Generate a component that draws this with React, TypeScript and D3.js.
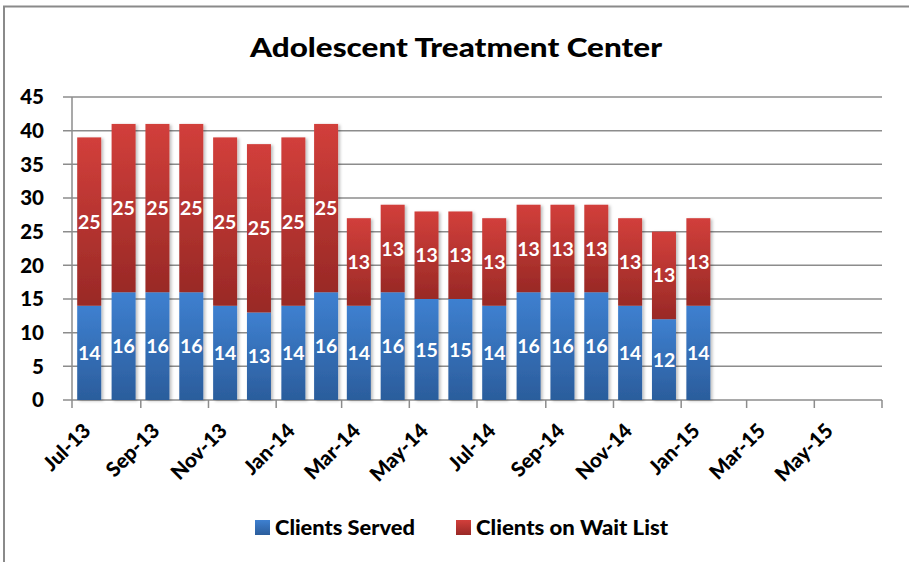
import { useEffect, useRef } from 'react';
import * as d3 from 'd3';

const months = [
  '2013-07', '2013-08', '2013-09', '2013-10', '2013-11', '2013-12',
  '2014-01', '2014-02', '2014-03', '2014-04', '2014-05', '2014-06',
  '2014-07', '2014-08', '2014-09', '2014-10', '2014-11', '2014-12', '2015-01',
];
const clientsServed = [14, 16, 16, 16, 14, 13, 14, 16, 14, 16, 15, 15, 14, 16, 16, 16, 14, 12, 14];
const clientsWaitList = [25, 25, 25, 25, 25, 25, 25, 25, 13, 13, 13, 13, 13, 13, 13, 13, 13, 13, 13];
const yTicks = [0, 5, 10, 15, 20, 25, 30, 35, 40, 45];
const seriesNames = ['Clients Served', 'Clients on Wait List'];

const FONT = 'Lato, "Open Sans", sans-serif';

export default function App() {
  const ref = useRef<SVGSVGElement>(null);

  useEffect(() => {
    if (!ref.current) return;
    const svg = d3.select(ref.current);
    svg.selectAll('*').remove();

    const width = 909;
    const height = 562;
    const margin = { top: 97, right: 27, bottom: 162, left: 72 };

    const parse = d3.timeParse('%Y-%m');
    const dates = months.map(m => parse(m) as Date);

    const x = d3.scaleTime()
      .domain([new Date(2013, 6, 1), new Date(2015, 6, 1)])
      .range([margin.left, width - margin.right]);

    const y = d3.scaleLinear()
      .domain([0, 45])
      .range([height - margin.bottom, margin.top]);

    const defs = svg.append('defs');
    const grads = [
      { id: 'gBlue', top: '#3e80d0', bottom: '#2b5d9c' },
      { id: 'gRed', top: '#d23f3b', bottom: '#992926' },
    ];
    grads.forEach(g => {
      const lg = defs.append('linearGradient')
        .attr('id', g.id)
        .attr('x1', 0).attr('y1', 0).attr('x2', 0).attr('y2', 1);
      lg.append('stop').attr('offset', '0%').attr('stop-color', g.top);
      lg.append('stop').attr('offset', '100%').attr('stop-color', g.bottom);
    });
    const filt = defs.append('filter').attr('id', 'shadow')
      .attr('x', '-20%').attr('y', '-5%').attr('width', '150%').attr('height', '115%');
    filt.append('feDropShadow')
      .attr('dx', 2).attr('dy', 1).attr('stdDeviation', 1.5)
      .attr('flood-color', '#000').attr('flood-opacity', 0.25);

    // Chart frame (top and left edges)
    svg.append('path')
      .attr('d', `M4,${height} V6.5 H${width}`)
      .attr('fill', 'none')
      .attr('stroke', '#8a8a8a')
      .attr('stroke-width', 2);

    // Title
    svg.append('text')
      .attr('x', 456)
      .attr('y', 57)
      .attr('text-anchor', 'middle')
      .attr('font-family', FONT)
      .attr('font-weight', 900)
      .attr('font-size', 26)
      .attr('textLength', 412)
      .attr('lengthAdjust', 'spacingAndGlyphs')
      .attr('fill', '#000')
      .text('Adolescent Treatment Center');

    // Gridlines
    svg.append('g')
      .selectAll('line')
      .data(yTicks)
      .join('line')
      .attr('x1', margin.left - 9)
      .attr('x2', width - margin.right)
      .attr('y1', d => y(d))
      .attr('y2', d => y(d))
      .attr('stroke', '#8c8c8c')
      .attr('stroke-width', 1.5);

    // Y axis line
    svg.append('line')
      .attr('x1', margin.left).attr('x2', margin.left)
      .attr('y1', y(45)).attr('y2', y(0))
      .attr('stroke', '#8c8c8c')
      .attr('stroke-width', 1.5);

    // Y labels
    svg.append('g')
      .selectAll('text')
      .data(yTicks)
      .join('text')
      .attr('x', 44)
      .attr('y', d => y(d))
      .attr('dy', '0.36em')
      .attr('text-anchor', 'end')
      .attr('font-family', FONT)
      .attr('font-weight', 900)
      .attr('font-size', 20.5)
      .attr('fill', '#000')
      .text(d => d);

    // X axis ticks
    const xTicks = d3.timeMonth.every(2)!.range(new Date(2013, 6, 1), new Date(2015, 6, 2));
    svg.append('g')
      .selectAll('line')
      .data(xTicks)
      .join('line')
      .attr('x1', d => x(d)).attr('x2', d => x(d))
      .attr('y1', y(0)).attr('y2', y(0) + 8)
      .attr('stroke', '#8c8c8c')
      .attr('stroke-width', 1.5);

    const fmt = d3.timeFormat('%b-%y');
    const tickLabels = xTicks.slice(0, -1);
    svg.append('g')
      .selectAll('text')
      .data(tickLabels)
      .join('text')
      .attr('transform', d => `translate(${x(d) + 20},${y(0) + 32}) rotate(-45)`)
      .attr('text-anchor', 'end')
      .attr('font-family', FONT)
      .attr('font-weight', 900)
      .attr('font-size', 20.5)
      .attr('fill', '#000')
      .text(d => fmt(d));

    // Bars
    const barW = 24;
    const center = (d: Date) => (x(d) + x(d3.timeMonth.offset(d, 1))) / 2;

    const bars = svg.append('g');
    dates.forEach((d, i) => {
      const cx = center(d);
      const s = clientsServed[i];
      const w = clientsWaitList[i];
      const g = bars.append('g').attr('filter', 'url(#shadow)');
      g.append('rect')
        .attr('x', cx - barW / 2)
        .attr('y', y(s))
        .attr('width', barW)
        .attr('height', y(0) - y(s))
        .attr('fill', 'url(#gBlue)');
      g.append('rect')
        .attr('x', cx - barW / 2)
        .attr('y', y(s + w))
        .attr('width', barW)
        .attr('height', y(s) - y(s + w))
        .attr('fill', 'url(#gRed)');
    });

    const labels = svg.append('g')
      .attr('font-family', FONT)
      .attr('font-weight', 'bold')
      .attr('font-size', 19.5)
      .attr('fill', '#fff')
      .attr('text-anchor', 'middle');
    dates.forEach((d, i) => {
      const cx = center(d);
      const s = clientsServed[i];
      const w = clientsWaitList[i];
      labels.append('text')
        .attr('x', cx)
        .attr('y', y(s / 2))
        .attr('dy', '0.36em')
        .text(s);
      labels.append('text')
        .attr('x', cx)
        .attr('y', y(s + w / 2))
        .attr('dy', '0.36em')
        .text(w);
    });

    // Legend
    const legendItems = [
      { name: seriesNames[0], fill: 'url(#gBlue)', x: 255, len: 140 },
      { name: seriesNames[1], fill: 'url(#gRed)', x: 456, len: 192 },
    ];
    const legend = svg.append('g');
    legendItems.forEach(item => {
      legend.append('rect')
        .attr('x', item.x)
        .attr('y', 520)
        .attr('width', 15)
        .attr('height', 15)
        .attr('fill', item.fill);
      legend.append('text')
        .attr('x', item.x + 20)
        .attr('y', 527.5)
        .attr('dy', '0.36em')
        .attr('font-family', FONT)
        .attr('font-weight', 900)
        .attr('font-size', 20)
        .attr('textLength', item.len)
        .attr('lengthAdjust', 'spacingAndGlyphs')
        .attr('fill', '#000')
        .text(item.name);
    });
  }, []);

  return (
    <div style={{ position: 'absolute', left: 0, top: 0 }}>
      <svg ref={ref} width={909} height={562} style={{ display: 'block', background: '#fff' }} />
    </div>
  );
}
